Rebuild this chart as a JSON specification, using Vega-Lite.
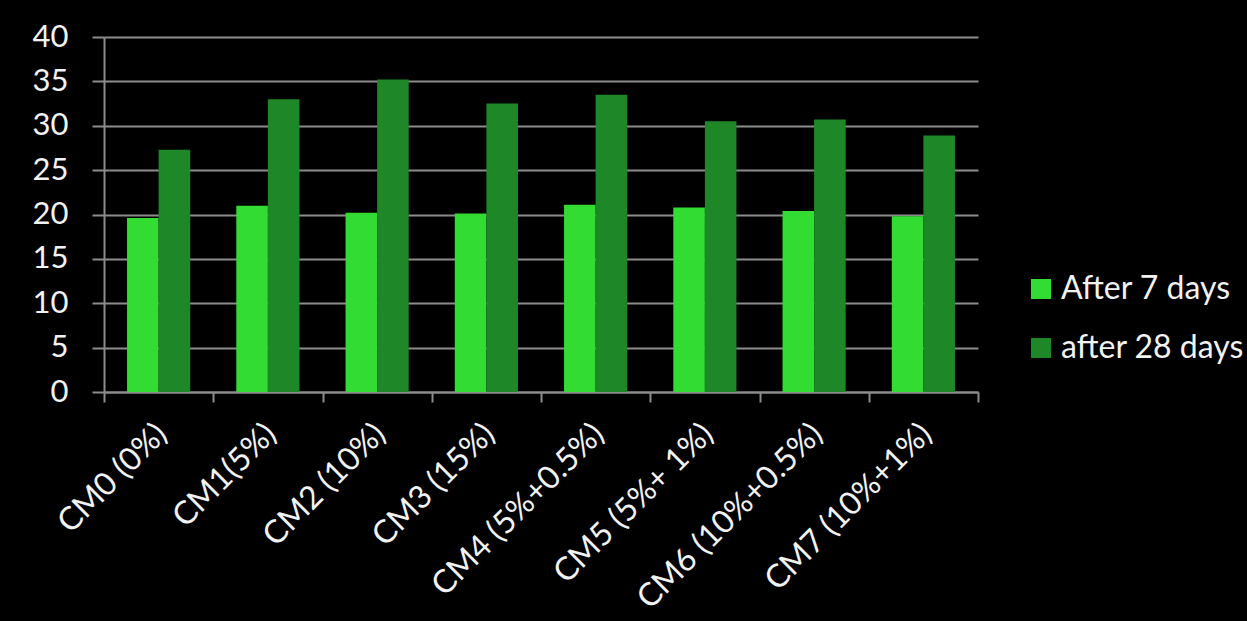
{
  "$schema": "https://vega.github.io/schema/vega-lite/v6.json",
  "width": 874,
  "height": 355,
  "autosize": {"type": "none"},
  "padding": {"left": 104, "top": 37, "right": 269, "bottom": 229},
  "background": "#000000",
  "config": {
    "view": {"stroke": null},
    "font": "Lato"
  },
  "data": {
    "values": [
      {"mix": "CM0 (0%)", "period": "After 7 days", "value": 19.6},
      {"mix": "CM0 (0%)", "period": "after 28 days", "value": 27.3},
      {"mix": "CM1(5%)", "period": "After 7 days", "value": 21.0},
      {"mix": "CM1(5%)", "period": "after 28 days", "value": 33.0},
      {"mix": "CM2 (10%)", "period": "After 7 days", "value": 20.2},
      {"mix": "CM2 (10%)", "period": "after 28 days", "value": 35.2},
      {"mix": "CM3 (15%)", "period": "After 7 days", "value": 20.1},
      {"mix": "CM3 (15%)", "period": "after 28 days", "value": 32.5},
      {"mix": "CM4 (5%+0.5%)", "period": "After 7 days", "value": 21.1},
      {"mix": "CM4 (5%+0.5%)", "period": "after 28 days", "value": 33.5},
      {"mix": "CM5 (5%+ 1%)", "period": "After 7 days", "value": 20.8},
      {"mix": "CM5 (5%+ 1%)", "period": "after 28 days", "value": 30.5},
      {"mix": "CM6 (10%+0.5%)", "period": "After 7 days", "value": 20.4},
      {"mix": "CM6 (10%+0.5%)", "period": "after 28 days", "value": 30.7},
      {"mix": "CM7 (10%+1%)", "period": "After 7 days", "value": 19.8},
      {"mix": "CM7 (10%+1%)", "period": "after 28 days", "value": 28.9}
    ]
  },
  "mark": {"type": "bar"},
  "encoding": {
    "x": {
      "field": "mix",
      "type": "nominal",
      "sort": null,
      "scale": {"paddingInner": 0, "paddingOuter": 0},
      "axis": {
        "title": null,
        "tickBand": "extent",
        "domainColor": "#8c8c8c",
        "domainWidth": 2,
        "tickColor": "#8c8c8c",
        "tickWidth": 2,
        "tickSize": 10,
        "labelAngle": -45,
        "labelFontSize": 32,
        "labelColor": "#f2f2f2",
        "labelPadding": 16,
        "labelOffset": -8,
        "labelLimit": 400
      }
    },
    "xOffset": {
      "field": "period",
      "type": "nominal",
      "sort": ["After 7 days", "after 28 days"],
      "scale": {"paddingInner": 0, "paddingOuter": 0.73}
    },
    "y": {
      "field": "value",
      "type": "quantitative",
      "scale": {"domain": [0, 40], "nice": false},
      "axis": {
        "title": null,
        "values": [0, 5, 10, 15, 20, 25, 30, 35, 40],
        "grid": true,
        "gridColor": "#8c8c8c",
        "gridWidth": 2,
        "domainColor": "#8c8c8c",
        "domainWidth": 2,
        "tickColor": "#8c8c8c",
        "tickWidth": 2,
        "tickSize": 12,
        "labelFontSize": 31,
        "labelColor": "#f2f2f2",
        "labelPadding": 24
      }
    },
    "color": {
      "field": "period",
      "type": "nominal",
      "scale": {"domain": ["After 7 days", "after 28 days"], "range": ["#32dc32", "#1e8728"]},
      "legend": {
        "title": null,
        "orient": "none",
        "legendX": 921,
        "legendY": 236,
        "symbolType": "square",
        "symbolSize": 400,
        "symbolStrokeWidth": 0,
        "labelFontSize": 32,
        "labelColor": "#f2f2f2",
        "labelOffset": 4,
        "rowPadding": 27,
        "labelLimit": 400
      }
    }
  }
}
